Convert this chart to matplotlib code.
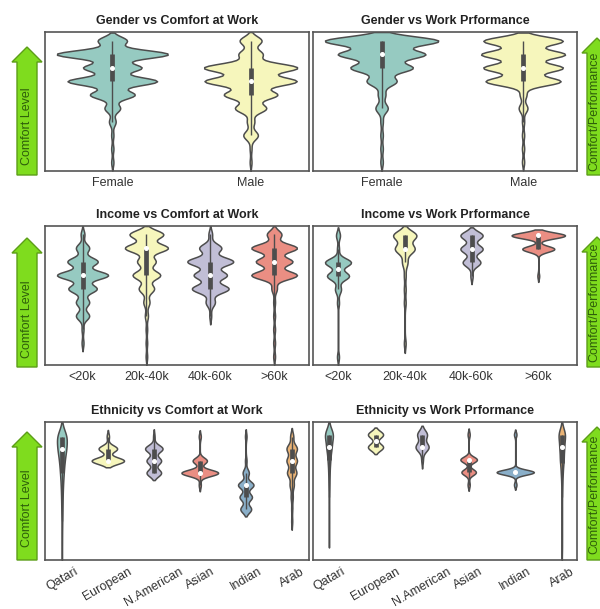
import matplotlib

matplotlib.use("Agg")
import matplotlib.pyplot as plt  # noqa: E402
from matplotlib import cbook  # noqa: E402
from matplotlib.patches import FancyArrow  # noqa: E402
import numpy as np  # noqa: E402
import pandas as pd  # noqa: E402
import seaborn as sns  # noqa: E402

# ---------------------------------------------------------------------------
# Data: number of answers at each score level (1..10), one list per group
# ---------------------------------------------------------------------------
LEVELS = list(range(1, 11))

GENDERS = ["Female", "Male"]
INCOMES = ["<20k", "20k-40k", "40k-60k", ">60k"]
ETHNICITIES = ["Qatari", "European", "N.American", "Asian", "Indian", "Arab"]

#                      1  2  3  4  5   6   7   8   9  10
GENDER_COMFORT = [
    [1, 1, 1, 3, 7, 20, 40, 26, 50, 13],   # Female
    [1, 1, 8, 4, 17, 29, 50, 51, 13, 12],  # Male
]
GENDER_PERFORMANCE = [
    [1, 1, 1, 1, 5, 3, 12, 25, 35, 46],    # Female
    [1, 1, 1, 1, 4, 3, 34, 36, 38, 36],    # Male
]
INCOME_COMFORT = [
    [0, 1, 1, 7, 7, 15, 27, 16, 7, 2],     # <20k
    [1, 1, 1, 2, 4, 10, 18, 12, 28, 22],   # 20k-40k
    [0, 0, 0, 1, 5, 20, 18, 25, 12, 2],    # 40k-60k
    [1, 1, 1, 1, 1, 3, 25, 20, 25, 8],     # >60k
]
INCOME_PERFORMANCE = [
    [1, 0, 0, 0, 1, 3, 11, 13, 1, 2],      # <20k
    [0, 1, 0, 0, 1, 1, 1, 3, 11, 13],      # 20k-40k
    [0, 0, 0, 0, 0, 0, 1, 8, 10, 10],      # 40k-60k
    [0, 0, 0, 0, 0, 0, 1, 0, 18, 30],      # >60k
]
ETHNICITY_COMFORT = [
    [1, 1, 2, 3, 4, 6, 10, 15, 25, 30],    # Qatari
    [0, 0, 0, 0, 0, 0, 0, 14, 8, 1],       # European
    [0, 0, 0, 0, 0, 0, 10, 10, 12, 1],     # N.American
    [0, 0, 0, 0, 0, 1, 18, 7, 0, 1],       # Asian
    [0, 0, 0, 7, 8, 10, 4, 1, 0, 1],       # Indian
    [0, 0, 1, 1, 2, 4, 9, 10, 10, 3],      # Arab
]
ETHNICITY_PERFORMANCE = [
    [0, 1, 1, 1, 1, 2, 3, 6, 12, 20],      # Qatari
    [0, 0, 0, 0, 0, 0, 0, 0, 8, 8],        # European
    [0, 0, 0, 0, 0, 0, 0, 1, 8, 6],        # N.American
    [0, 0, 0, 0, 0, 1, 7, 8, 0, 1],        # Asian
    [0, 0, 0, 0, 0, 1, 15, 0, 0, 1],       # Indian
    [1, 1, 1, 1, 1, 2, 4, 8, 10, 15],      # Arab
]

# KDE bandwidth (in score units) used for each group's violin
BW_GENDER_COMFORT = [0.30, 0.32]
BW_GENDER_PERFORMANCE = [0.33, 0.31]
BW_INCOME_COMFORT = [0.30, 0.31, 0.31, 0.30]
BW_INCOME_PERFORMANCE = [0.30, 0.35, 0.30, 0.22]
BW_ETHNICITY_COMFORT = [0.60, 0.27, 0.30, 0.26, 0.30, 0.35]
BW_ETHNICITY_PERFORMANCE = [0.50, 0.28, 0.35, 0.24, 0.20, 0.50]

PALETTE = sns.color_palette("Set3")
EDGE = "#4d4d4d"
ARROW_FILL = "#7fdc1e"
ARROW_EDGE = "#5c9e18"
ARROW_TEXT = "#2e5f0a"

FIG_W, FIG_H = 600, 609


def to_frame(groups, counts):
    rows = []
    for group, per_level in zip(groups, counts):
        for level, n in zip(LEVELS, per_level):
            rows.extend([(group, float(level))] * n)
    return pd.DataFrame(rows, columns=["group", "score"])


def bandwidth_picker(df, groups, bws):
    """Return a bw_method callable giving each group its own KDE bandwidth."""
    lookup = {}
    for group, bw in zip(groups, bws):
        vals = np.sort(df.loc[df["group"] == group, "score"].to_numpy())
        lookup[tuple(vals)] = bw

    def factor(kde):
        vals = np.sort(np.asarray(kde.dataset).ravel())
        bw = lookup.get(tuple(vals), 0.4)
        return bw / np.std(vals, ddof=1)

    return factor


def axes_rect(left, top, right, bottom):
    return [left / FIG_W, 1 - bottom / FIG_H, (right - left) / FIG_W,
            (bottom - top) / FIG_H]


def draw_violin(ax, groups, counts, bws, title, rotate=False):
    df = to_frame(groups, counts)
    sns.violinplot(
        data=df, x="group", y="score", hue="group", order=groups,
        hue_order=groups, palette=PALETTE[:len(groups)], legend=False,
        inner=None, linewidth=1.1, linecolor=EDGE,
        bw_method=bandwidth_picker(df, groups, bws), cut=2,
        density_norm="area", common_norm=True, saturation=0.75, ax=ax,
    )
    # inner mini box plot: whiskers, IQR bar and white median dot
    for i, group in enumerate(groups):
        vals = df.loc[df["group"] == group, "score"].to_numpy()
        st = cbook.boxplot_stats(vals)[0]
        ax.plot([i, i], [st["whislo"], st["whishi"]], color=EDGE, lw=1.0,
                solid_capstyle="butt", zorder=3)
        ax.plot([i, i], [st["q1"], st["q3"]], color=EDGE, lw=3.4,
                solid_capstyle="butt", zorder=3)
        ax.plot([i], [st["med"]], marker="o", markersize=2.6,
                markerfacecolor="white", markeredgecolor="white", zorder=4)
    ax.margins(y=0)
    ax.set_title(title, fontsize=9, fontweight="bold", color="#222222", pad=6)
    ax.set_xlabel("")
    ax.set_ylabel("")
    ax.set_yticks([])
    ax.tick_params(axis="x", length=0, pad=4, labelsize=9, colors="#333333")
    if rotate:
        for lab in ax.get_xticklabels():
            lab.set_rotation(30)
            lab.set_ha("center")
    for sp in ax.spines.values():
        sp.set_color("#555555")
        sp.set_linewidth(1.2)


def draw_arrow(fig, x, tip, bottom, text, text_x, text_y):
    # pixel positions (from top-left) -> inches from bottom-left
    xi = x / 100
    y0 = (FIG_H - bottom) / 100
    length = (bottom - tip) / 100
    arr = FancyArrow(
        xi, y0, 0, length, width=0.20, head_width=0.30, head_length=0.15,
        length_includes_head=True, transform=fig.dpi_scale_trans,
        facecolor=ARROW_FILL, edgecolor=ARROW_EDGE, linewidth=1.0,
    )
    fig.patches.append(arr)
    fig.text(text_x / 100, (FIG_H - text_y) / 100, text,
             transform=fig.dpi_scale_trans, rotation=90, ha="center",
             va="center", fontsize=9, color=ARROW_TEXT)


def main():
    plt.rcParams["font.family"] = ["Liberation Sans", "DejaVu Sans"]
    fig = plt.figure(figsize=(FIG_W / 100, FIG_H / 100), dpi=100)

    rows = [(32, 171), (226, 365), (422, 560)]
    panels = [
        (GENDERS, GENDER_COMFORT, BW_GENDER_COMFORT,
         "Gender vs Comfort at Work",
         GENDER_PERFORMANCE, BW_GENDER_PERFORMANCE,
         "Gender vs Work Prformance"),
        (INCOMES, INCOME_COMFORT, BW_INCOME_COMFORT,
         "Income vs Comfort at Work",
         INCOME_PERFORMANCE, BW_INCOME_PERFORMANCE,
         "Income vs Work Prformance"),
        (ETHNICITIES, ETHNICITY_COMFORT, BW_ETHNICITY_COMFORT,
         "Ethnicity vs Comfort at Work",
         ETHNICITY_PERFORMANCE, BW_ETHNICITY_PERFORMANCE,
         "Ethnicity vs Work Prformance"),
    ]
    for i, ((top, bottom), panel) in enumerate(zip(rows, panels)):
        groups, comfort, bw1, t1, perf, bw2, t2 = panel
        ax_l = fig.add_axes(axes_rect(45, top, 309, bottom))
        ax_r = fig.add_axes(axes_rect(313, top, 577, bottom))
        draw_violin(ax_l, groups, comfort, bw1, t1, rotate=(i == 2))
        draw_violin(ax_r, groups, perf, bw2, t2, rotate=(i == 2))

    left_arrows = [(47, 175, 126), (238, 367, 319), (432, 560, 508)]
    right_arrows = [(38, 175, 111), (237, 367, 302), (427, 560, 494)]
    for tip, bottom, ty in left_arrows:
        draw_arrow(fig, 27, tip, bottom, "Comfort Level", 27, ty)
    for tip, bottom, ty in right_arrows:
        draw_arrow(fig, 597, tip, bottom, "Comfort/Performance", 594, ty)

    fig.savefig("out.png", dpi=100)
    plt.close(fig)


if __name__ == "__main__":
    main()
